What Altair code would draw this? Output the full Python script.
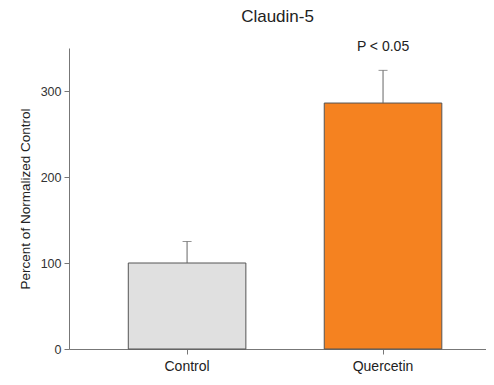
import altair as alt
import pandas as pd

groups = ["Control", "Quercetin"]
means = [100, 286]
errors = [25, 38]
colors = ["#e0e0e0", "#f58220"]
annotations = ["", "P < 0.05"]

df = pd.DataFrame({
    "group": groups,
    "mean": means,
    "err": errors,
    "color": colors,
    "note": annotations,
})
df["top"] = df["mean"] + df["err"]

FONT = "Liberation Sans"

x = alt.X("group:N", sort=groups, title=None,
          scale=alt.Scale(paddingInner=0.4, paddingOuter=0.264, align=0.573),
          axis=alt.Axis(labelAngle=0, labelFontSize=14, labelColor="#222",
                        labelFont=FONT, labelPadding=5, tickSize=5,
                        tickColor="#777", domainColor="#777"))
yscale = alt.Scale(domain=[0, 350], nice=False)

bars = alt.Chart(df).mark_bar(stroke="#555", strokeWidth=1).encode(
    x=x,
    y=alt.Y("mean:Q", scale=yscale, title="Percent of Normalized Control",
            axis=alt.Axis(values=[0, 100, 200, 300], labelFontSize=12.5,
                          labelColor="#333", labelFont=FONT, tickSize=5,
                          labelPadding=3,
                          tickColor="#777", domainColor="#777", grid=False,
                          titleFont=FONT, titleFontSize=13.5, titleFontWeight="normal",
                          titleColor="#222", titlePadding=8)),
    fill=alt.Color("color:N", scale=None),
)

rules = alt.Chart(df).mark_rule(color="#666", strokeWidth=1).encode(
    x=alt.X("group:N", sort=groups),
    y=alt.Y("mean:Q", scale=yscale),
    y2="top:Q",
)

caps = alt.Chart(df).mark_tick(color="#666", thickness=1, size=9, orient="horizontal").encode(
    x=alt.X("group:N", sort=groups),
    y=alt.Y("top:Q", scale=yscale),
)

notes = alt.Chart(df).mark_text(font=FONT, fontSize=14, color="#222", dy=-23,
                                baseline="middle").encode(
    x=alt.X("group:N", sort=groups),
    y=alt.Y("top:Q", scale=yscale),
    text="note:N",
)

chart = alt.layer(bars, rules, caps, notes).properties(
    width=417, height=301,
    title=alt.TitleParams("Claudin-5", font=FONT, fontSize=17, fontWeight="normal",
                          color="#222", offset=14, anchor="middle"),
    autosize=alt.AutoSizeParams(type="none"),
    padding={"left": 61, "top": 40, "right": 0, "bottom": 28},
).configure_view(stroke=None)

chart.save("out.html", embed_options={"renderer": "svg", "actions": False})
